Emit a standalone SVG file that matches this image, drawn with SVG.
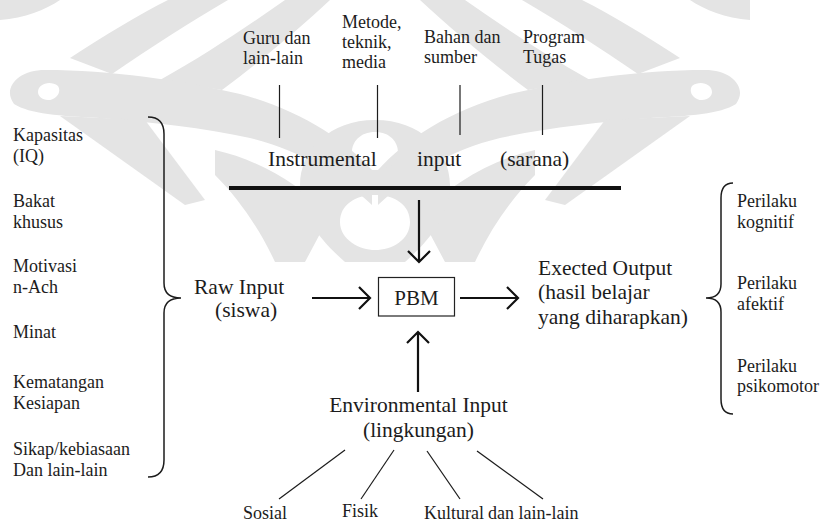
<svg xmlns="http://www.w3.org/2000/svg" width="820" height="524" viewBox="0 0 820 524" font-family="'Liberation Serif', 'Times New Roman', 'DejaVu Serif', serif">
<style>
text{font-family:'Liberation Serif','Times New Roman','DejaVu Serif',serif;fill:#1c1c1c}
.s{font-size:18px}
.b{font-size:21.5px}
.ln{stroke:#1c1c1c;stroke-width:1.2;fill:none}
.ar{stroke:#111;stroke-width:2.2;fill:none;stroke-linecap:butt}
.br{stroke:#1c1c1c;stroke-width:1.5;fill:none}
.wm{fill:#e4e4e4;stroke:none}
</style>
<defs>
<g id="wing">
<path class="wm" d="M0,0 H60 C45,10 25,18 0,20 Z"/>
<path class="wm" d="M70,58 C105,35 140,14 168,0 H228 C190,22 150,48 112,74 Z"/>
<path class="wm" d="M160,80 C205,55 245,28 285,0 H330 C300,28 262,60 222,90 Z"/>
<path class="wm" d="M14,104 C2,88 18,70 45,70 C110,70 180,80 240,94 C300,110 345,140 372,170 L372,205 C340,175 300,150 250,138 C205,128 150,122 100,118 C60,116 30,114 14,104 Z M38,92 C38,84 50,80 58,86 C62,92 56,100 48,100 C42,100 38,96 38,92 Z" fill-rule="evenodd"/>
<path class="wm" d="M60,116 L145,120 L205,200 L185,205 Z"/>
<path class="wm" d="M215,150 C260,160 300,185 330,215 L305,262 H275 C260,230 240,200 215,175 Z"/>
</g>
</defs>
<rect width="820" height="524" fill="#fff"/>
<g id="watermark">
<use href="#wing"/>
<use href="#wing" transform="translate(750,0) scale(-1,1)"/>
<path class="wm" d="M375,120 C420,120 450,150 450,185 C450,215 430,240 405,262 H345 C320,240 300,215 300,185 C300,150 330,120 375,120 Z M375,132 C360,132 352,142 352,152 C352,163 362,170 375,170 C388,170 398,163 398,152 C398,142 390,132 375,132 Z M375,195 C355,195 340,205 340,222 C340,240 360,250 375,250 C392,250 410,240 410,222 C410,205 395,195 375,195 Z" fill-rule="evenodd"/>
</g>
<g id="instrumental-items">
<text class="s" x="243" y="44">Guru dan</text>
<text class="s" x="243" y="64">lain-lain</text>
<text class="s" x="342" y="28">Metode,</text>
<text class="s" x="342" y="48">teknik,</text>
<text class="s" x="342" y="68">media</text>
<text class="s" x="424" y="43">Bahan dan</text>
<text class="s" x="424" y="63">sumber</text>
<text class="s" x="523" y="43">Program</text>
<text class="s" x="523" y="63">Tugas</text>
</g>
<g id="instrumental-input">
<text class="b" x="268" y="166">Instrumental</text>
<text class="b" x="417" y="166">input</text>
<text class="b" x="500" y="166">(sarana)</text>
<line x1="229" y1="188" x2="621" y2="188" stroke="#111" stroke-width="4"/>
</g>
<g id="raw-items">
<text class="s" x="13" y="141">Kapasitas</text>
<text class="s" x="13" y="162">(IQ)</text>
<text class="s" x="13" y="207">Bakat</text>
<text class="s" x="13" y="228">khusus</text>
<text class="s" x="13" y="272">Motivasi</text>
<text class="s" x="13" y="293">n-Ach</text>
<text class="s" x="13" y="338">Minat</text>
<text class="s" x="13" y="388">Kematangan</text>
<text class="s" x="13" y="409">Kesiapan</text>
<text class="s" x="13" y="455">Sikap/kebiasaan</text>
<text class="s" x="13" y="476">Dan lain-lain</text>
<path class="br" d="M148,117 Q164,117 164,134 L164,283 Q164,298 181,298 Q164,298 164,313 L164,460 Q164,477 148,477"/>
</g>
<g id="raw-input">
<text class="b" x="194" y="294">Raw Input</text>
<text class="b" x="215" y="317">(siswa)</text>
</g>
<g id="pbm">
<rect x="378.5" y="277.5" width="76" height="38.5" fill="#fff" stroke="#222" stroke-width="1.2"/>
<text class="b" x="416.5" y="305" text-anchor="middle" style="font-size:21px">PBM</text>
</g>
<g id="expected-output">
<text class="b" x="538" y="275">Exected Output</text>
<text class="b" x="538" y="299">(hasil belajar</text>
<text class="b" x="538" y="324">yang diharapkan)</text>
</g>
<g id="output-items">
<path class="br" d="M733,183 Q721,183 721,198 L721,284 Q721,298 706,298 Q721,298 721,312 L721,399 Q721,414 733,414"/>
<text class="s" x="737" y="207">Perilaku</text>
<text class="s" x="737" y="228">kognitif</text>
<text class="s" x="737" y="289">Perilaku</text>
<text class="s" x="737" y="310">afektif</text>
<text class="s" x="737" y="372">Perilaku</text>
<text class="s" x="737" y="392">psikomotor</text>
</g>
<g id="environmental-input">
<text class="b" x="418.5" y="412" text-anchor="middle">Environmental Input</text>
<text class="b" x="418.5" y="437" text-anchor="middle">(lingkungan)</text>
</g>
<g id="environment-items">
<text class="s" x="243" y="519">Sosial</text>
<text class="s" x="342" y="517">Fisik</text>
<text class="s" x="424" y="519">Kultural</text>
<text class="s" x="488" y="519">dan lain-lain</text>
</g>
<g id="connectors">
<line class="ln" x1="279.5" y1="85" x2="279.5" y2="138"/>
<line class="ln" x1="377.5" y1="85" x2="377.5" y2="138"/>
<line class="ln" x1="460" y1="85" x2="460" y2="135"/>
<line class="ln" x1="542.5" y1="85" x2="542.5" y2="135"/>
<path class="ar" d="M419,200 V262 M408,251 L419,262 L430,251"/>
<path class="ar" d="M312,298 H370 M359,287 L370,298 L359,309"/>
<path class="ar" d="M460,298 H518 M507,287 L518,298 L507,309"/>
<path class="ar" d="M418,392 V332 M407,343 L418,332 L429,343"/>
<line class="ln" x1="345" y1="450" x2="279" y2="499"/>
<line class="ln" x1="394" y1="450" x2="361" y2="499"/>
<line class="ln" x1="427" y1="451" x2="460" y2="499"/>
<line class="ln" x1="477" y1="451" x2="543" y2="499"/>
</g>
</svg>
